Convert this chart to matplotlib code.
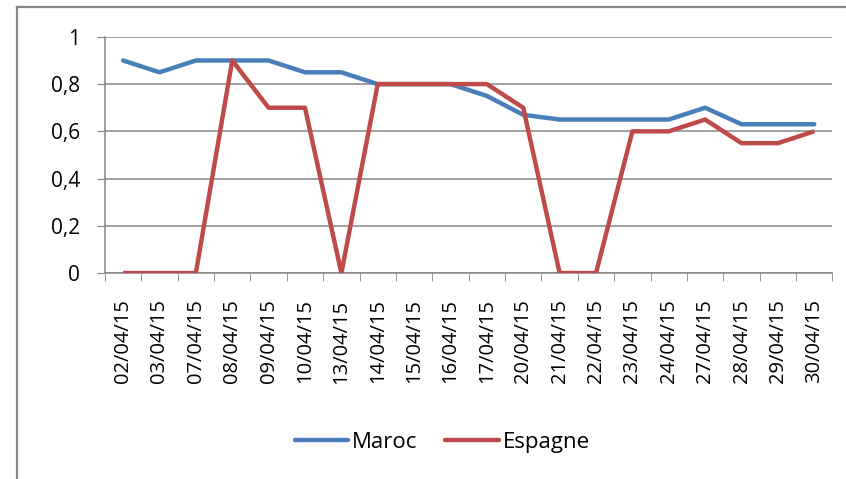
import matplotlib.pyplot as plt
from matplotlib.lines import Line2D

# Data
dates = ['02/04/15', '03/04/15', '07/04/15', '08/04/15', '09/04/15', '10/04/15',
         '13/04/15', '14/04/15', '15/04/15', '16/04/15', '17/04/15', '20/04/15',
         '21/04/15', '22/04/15', '23/04/15', '24/04/15', '27/04/15', '28/04/15',
         '29/04/15', '30/04/15']
maroc = [0.9, 0.85, 0.9, 0.9, 0.9, 0.85, 0.85, 0.8, 0.8, 0.8,
         0.75, 0.67, 0.65, 0.65, 0.65, 0.65, 0.7, 0.63, 0.63, 0.63]
espagne = [0, 0, 0, 0.9, 0.7, 0.7, 0, 0.8, 0.8, 0.8,
           0.8, 0.7, 0, 0, 0.6, 0.6, 0.65, 0.55, 0.55, 0.6]

plt.rcParams['font.family'] = ['Open Sans', 'DejaVu Sans']
grey = '#868686'
blue = '#4A7EBB'
red = '#BE4B48'

fig = plt.figure(figsize=(8.46, 4.79), dpi=100)
ax = fig.add_axes([0.124, 0.43, 0.86, 0.493])

x = list(range(len(dates)))
ax.plot(x, maroc, color=blue, lw=3.2, solid_capstyle='round', label='Maroc', zorder=3)
ax.plot(x, espagne, color=red, lw=3.2, solid_capstyle='butt', label='Espagne', zorder=4)

ax.set_xlim(-0.5, len(dates) - 0.5)
ax.set_ylim(0, 1)
ax.set_yticks([0, 0.2, 0.4, 0.6, 0.8, 1])
ax.set_yticklabels(['0', '0,2', '0,4', '0,6', '0,8', '1'], fontsize=15)
ax.grid(axis='y', color=grey, lw=1.1)
ax.set_axisbelow(True)

ax.set_xticks(x)
ax.set_xticklabels(dates, rotation=90, fontsize=14.5)
ax.tick_params(axis='x', length=0, pad=19)
ax.set_xticks([i - 0.5 for i in range(len(dates) + 1)], minor=True)
ax.tick_params(axis='x', which='minor', length=6, color=grey, direction='out')
ax.tick_params(axis='y', length=6, color=grey, pad=12)

for s in ['top', 'right']:
    ax.spines[s].set_visible(False)
for s in ['left', 'bottom']:
    ax.spines[s].set_color(grey)
    ax.spines[s].set_linewidth(1.1)

handles = [Line2D([], [], color=blue, lw=3.2, solid_capstyle='round'),
           Line2D([], [], color=red, lw=3.2, solid_capstyle='round')]
fig.legend(handles, ['Maroc', 'Espagne'], loc='center', bbox_to_anchor=(0.523, 0.077),
           ncol=2, frameon=False, fontsize=16, handlelength=2.4, handletextpad=0.2,
           columnspacing=1.25)

# outer chart border (left and top edges visible)
fx = 17 / 846
fy = 1 - 7 / 479
fig.add_artist(Line2D([fx, fx], [0, fy], color=grey, lw=1.6, transform=fig.transFigure))
fig.add_artist(Line2D([fx, 1], [fy, fy], color=grey, lw=1.6, transform=fig.transFigure))

fig.savefig('out.png', dpi=100)
